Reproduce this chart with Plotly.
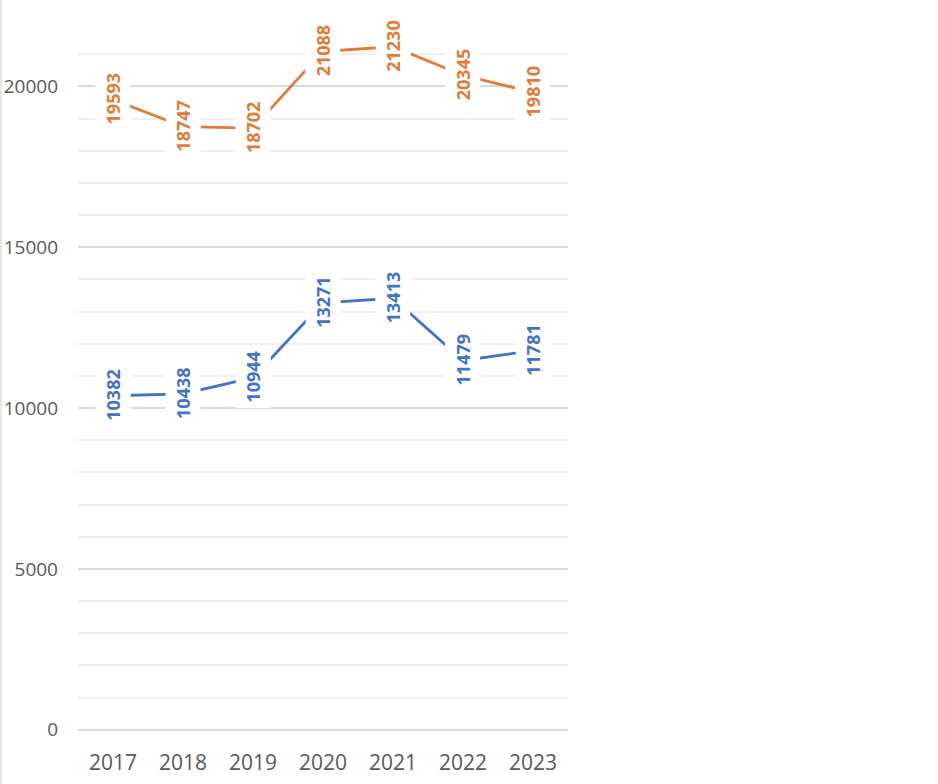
import plotly.graph_objects as go

years = ["2017", "2018", "2019", "2020", "2021", "2022", "2023"]
orange_vals = [19593, 18747, 18702, 21088, 21230, 20345, 19810]
blue_vals = [10382, 10438, 10944, 13271, 13413, 11479, 11781]
y_ticks = [0, 5000, 10000, 15000, 20000]

ORANGE = "#E07B39"
BLUE = "#4472C4"
FONT = "Open Sans"

fig = go.Figure()
for vals, col in [(orange_vals, ORANGE), (blue_vals, BLUE)]:
    fig.add_trace(go.Scatter(x=years, y=vals, mode="lines",
                             line=dict(color=col, width=2.8),
                             hoverinfo="skip", showlegend=False))
    for i, v in enumerate(vals):
        fig.add_annotation(x=i, y=v, xref="x", yref="y",
                           text="<b>%d</b>" % v, showarrow=False,
                           textangle=-90, bgcolor="white", borderpad=5,
                           font=dict(family=FONT, size=18, color=col))

fig.update_layout(
    width=938, height=784,
    margin=dict(l=78, r=370, t=22, b=53, autoexpand=False),
    paper_bgcolor="white", plot_bgcolor="white",
    font=dict(family=FONT, color="#595959"),
    xaxis=dict(type="category", range=[-0.5, 6.5], showgrid=False,
               showline=False, zeroline=False, ticks="",
               tickfont=dict(size=21, color="#595959"),
               ticklabelstandoff=17, fixedrange=True),
    yaxis=dict(range=[-40, 22000], tickvals=y_ticks, tickformat="d",
               showgrid=True,
               gridcolor="#d9d9d9", gridwidth=1.5, zeroline=False,
               showline=False, ticks="",
               tickfont=dict(size=19, color="#595959"),
               ticklabelstandoff=19,
               minor=dict(dtick=1000, showgrid=True, gridcolor="#f0f0f0",
                          gridwidth=1.5, ticks=""),
               fixedrange=True),
    shapes=[dict(type="line", xref="paper", yref="paper",
                 x0=-77/490, x1=-77/490, y0=-53/709, y1=(709+22)/709,
                 line=dict(color="#cfcfcf", width=1))],
)

fig.write_html("out.html", config={"displayModeBar": False},
               post_script="document.body.style.margin='0';document.body.style.overflow='hidden';")
